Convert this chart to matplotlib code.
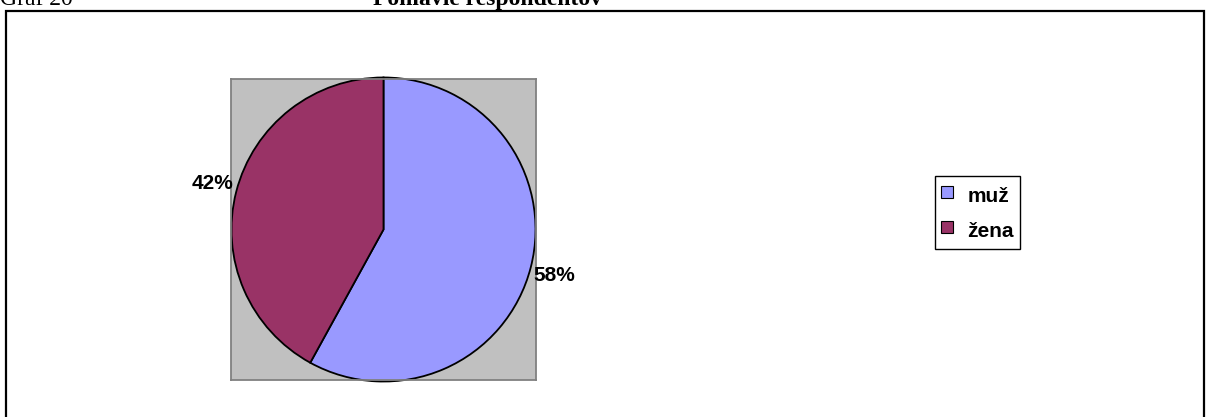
import numpy as np
import matplotlib.pyplot as plt
from matplotlib.patches import Rectangle
from matplotlib.lines import Line2D

W, H = 1207, 417

labels = ['muž', 'žena']
shares = [58, 42]
colors = ['#9999FF', '#993366']

fig = plt.figure(figsize=(W / 100, H / 100), dpi=100)


def px(x0, y0, x1, y1):
    # pixel box (top-left origin) -> figure fraction
    return [x0 / W, 1 - y1 / H, (x1 - x0) / W, (y1 - y0) / H]


# outer frame (bottom edge runs off the page)
fig.patches.append(Rectangle((6 / W, -0.05), 1198 / W, 1.05 - 11 / H, transform=fig.transFigure,
                             fill=False, edgecolor='black', linewidth=1.6))

# page header, cut at the top like the scan
fig.text(0 / W, 1 - 5 / H, 'Graf 20', family='Liberation Serif', fontsize=17, va='baseline', ha='left')
fig.text(373 / W, 1 - 5 / H, 'Pohlavie respondentov', family='Liberation Serif', fontsize=17,
         fontweight='bold', va='baseline', ha='left')

ax = fig.add_axes(px(231, 79, 536, 380))
wedges, _ = ax.pie(shares, colors=colors, startangle=90, counterclock=False, frame=True,
                   wedgeprops=dict(edgecolor='black', linewidth=1.3))
ax.set_facecolor('#C0C0C0')
for s in ax.spines.values():
    s.set_color('#808080')
    s.set_linewidth(1.3)
ax.set_aspect('auto')
ax.set_xlim(-1.003, 1.003)
ax.set_ylim(-0.99, 0.99)
ax.set_xticks([])
ax.set_yticks([])

for w, v in zip(wedges, shares):
    mid = np.deg2rad((w.theta1 + w.theta2) / 2)
    cx, cy = np.cos(mid), np.sin(mid)
    ax.text(1.02 * cx, 1.22 * cy, f'{v}%', ha='left' if cx > 0 else 'right', va='center',
            family='Liberation Sans', fontweight='bold', fontsize=15, clip_on=False)

handles = [Line2D([], [], linestyle='none', marker='s', markersize=8.5, markerfacecolor=c,
                  markeredgecolor='black', markeredgewidth=0.8) for c in colors]
leg = fig.legend(handles, labels, loc='upper left', bbox_to_anchor=(935 / W, 1 - 176 / H),
                 prop=dict(family='Liberation Sans', weight='bold', size=15),
                 frameon=True, fancybox=False, edgecolor='black', framealpha=1,
                 handlelength=0.55, handleheight=1.5, handletextpad=0.7, labelspacing=0.45,
                 borderpad=0.3, borderaxespad=0)
leg.get_frame().set_linewidth(1.0)

fig.savefig('out.png', dpi=100)
